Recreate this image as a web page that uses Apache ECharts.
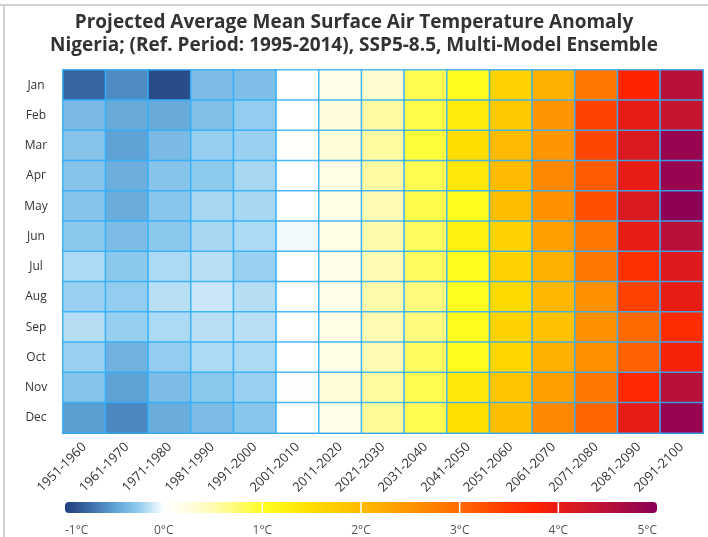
<!DOCTYPE html>
<html>
<head>
<meta charset="utf-8">
<script src="https://cdn.jsdelivr.net/npm/echarts@6/dist/echarts.min.js"></script>
<style>
html,body{margin:0;padding:0;background:#fff;}
#chart{width:708px;height:537px;}
</style>
</head>
<body>
<div id="chart"></div>
<script>
// ---- data ----
const months = ['Jan','Feb','Mar','Apr','May','Jun','Jul','Aug','Sep','Oct','Nov','Dec'];
const decades = ['1951-1960','1961-1970','1971-1980','1981-1990','1991-2000','2001-2010','2011-2020','2021-2030','2031-2040','2041-2050','2051-2060','2061-2070','2071-2080','2081-2090','2091-2100'];

// anomaly (°C) per decade, Jan..Dec
const d1951 = [-0.78,-0.36,-0.30,-0.30,-0.30,-0.28,-0.19,-0.23,-0.17,-0.23,-0.30,-0.52];
const d1961 = [-0.60,-0.45,-0.50,-0.43,-0.44,-0.35,-0.28,-0.25,-0.24,-0.41,-0.50,-0.62];
const d1971 = [-0.92,-0.45,-0.36,-0.30,-0.29,-0.28,-0.19,-0.16,-0.19,-0.25,-0.35,-0.44];
const d1981 = [-0.35,-0.33,-0.24,-0.27,-0.20,-0.20,-0.16,-0.12,-0.16,-0.19,-0.28,-0.35];
const d1991 = [-0.34,-0.25,-0.23,-0.20,-0.20,-0.19,-0.23,-0.17,-0.16,-0.19,-0.23,-0.29];
const d2001 = [0.02,0.00,0.03,0.00,0.02,-0.03,0.02,0.02,0.00,0.00,-0.01,0.00];
const d2011 = [0.18,0.28,0.30,0.22,0.22,0.22,0.18,0.18,0.22,0.20,0.30,0.18];
const d2021 = [0.35,0.55,0.57,0.55,0.50,0.52,0.50,0.52,0.50,0.50,0.57,0.60];
const d2031 = [0.85,0.88,0.92,0.85,0.87,0.80,0.80,0.70,0.70,0.80,0.85,0.85];
const d2041 = [1.05,1.30,1.50,1.35,1.05,1.25,1.05,1.00,1.05,1.05,1.35,1.45];
const d2051 = [1.65,1.80,2.00,2.00,1.95,1.65,1.65,1.55,1.65,1.60,1.85,1.95];
const d2061 = [2.15,2.50,2.50,2.65,2.55,2.35,2.15,2.05,1.90,2.15,2.35,2.65];
const d2071 = [2.85,3.40,3.35,3.15,3.25,2.85,2.85,2.55,2.55,2.55,2.85,3.05];
const d2081 = [3.75,4.00,4.15,4.00,4.15,4.00,3.60,3.40,3.00,3.10,3.70,4.00];
const d2091 = [4.50,4.35,4.85,4.85,4.95,4.50,4.10,4.00,3.65,3.85,4.50,4.85];
const decadeValues = [d1951,d1961,d1971,d1981,d1991,d2001,d2011,d2021,d2031,d2041,d2051,d2061,d2071,d2081,d2091];

// colour scale (-1 .. 5 °C, evenly spaced stops)
const scaleMin = -1, scaleMax = 5;
const scaleColors = ['#213f7c','#3a6aa8','#5ea2d6','#92cdef','#ffffff','#fffde0','#fffbb2','#fffb70','#ffff20',
  '#fff010','#ffdc00','#ffcc00','#ffbb00','#ffa800','#ff9500','#ff8000','#ff6a00','#ff5000','#ff3800','#ff2400',
  '#e81c14','#d01828','#b81038','#a00848','#880058'];
const colorbarTicks = [1,2,3,4];

// ---- build ----
const heatData = [];
decadeValues.forEach((col, xi) => col.forEach((v, yi) => heatData.push([xi, yi, v])));
const stops = scaleColors.map((c, i) => ({offset: i/(scaleColors.length-1), color: c}));

const chart = echarts.init(document.getElementById('chart'), null, {renderer:'canvas'});
const font = '"Open Sans", "Noto Sans", sans-serif';
chart.setOption({
  animation: false,
  title: {
    text: 'Projected Average Mean Surface Air Temperature Anomaly\nNigeria; (Ref. Period: 1995-2014), SSP5-8.5, Multi-Model Ensemble',
    left: 'center', top: 11, padding: [0,0,0,22],
    textStyle: {fontFamily: font, fontSize: 19, fontWeight: 'bold', color: '#333', lineHeight: 23}
  },
  graphic: [
    {type:'line', shape:{x1:0,y1:5,x2:708,y2:5}, style:{stroke:'#d2d2d2', lineWidth:2}, silent:true},
    {type:'line', shape:{x1:4,y1:5,x2:4,y2:537}, style:{stroke:'#c4c4c4', lineWidth:1.5}, silent:true}
  ],
  grid: [
    {left:63, right:5, top:70, bottom:104, show:true, borderColor:'#dcdcdc', borderWidth:1},
    {left:65, right:51, top:502, height:12}
  ],
  xAxis: [
    {type:'category', data: decades, gridIndex:0,
     axisLabel:{rotate:45, interval:0, fontFamily:font, fontSize:13, color:'#333', margin:12},
     axisTick:{show:false}, axisLine:{show:true, lineStyle:{color:'#2a3340', width:2}}, splitLine:{show:false}},
    {type:'value', gridIndex:1, min:scaleMin, max:scaleMax, interval:1,
     axisLabel:{formatter:'{value}°C', fontFamily:font, fontSize:12, color:'#555', margin:12,
                alignMinLabel:'left', alignMaxLabel:'right'},
     axisTick:{show:false}, axisLine:{show:false}, splitLine:{show:false}}
  ],
  yAxis: [
    {type:'category', data: months, inverse:true, gridIndex:0,
     axisLabel:{fontFamily:font, fontSize:12, color:'#333', align:'center', margin:27},
     axisTick:{show:false}, axisLine:{show:true, lineStyle:{color:'#bbbbbb'}}, splitLine:{show:false}},
    {type:'value', gridIndex:1, min:0, max:1, show:false}
  ],
  visualMap: {
    type:'continuous', min:scaleMin, max:scaleMax, show:false, seriesIndex:0,
    inRange:{color: scaleColors}
  },
  series: [
    {type:'heatmap', data: heatData, xAxisIndex:0, yAxisIndex:0,
     itemStyle:{borderColor:'rgba(50,175,250,0.85)', borderWidth:1.6},
     emphasis:{disabled:true}, label:{show:false}},
    {type:'custom', xAxisIndex:1, yAxisIndex:1, silent:true,
     data:[[scaleMin, 0]],
     renderItem: function(params, api){
       const p0 = api.coord([scaleMin, 1]);
       const p1 = api.coord([scaleMax, 0]);
       return {type:'rect', shape:{x:p0[0], y:p0[1], width:p1[0]-p0[0], height:p1[1]-p0[1], r:4},
               style:{fill: new echarts.graphic.LinearGradient(0,0,1,0, stops)}};
     }},
    {type:'custom', xAxisIndex:1, yAxisIndex:1, silent:true,
     data: colorbarTicks.map(v => [v, 0]),
     renderItem: function(params, api){
       const a = api.coord([api.value(0), 0]);
       const b = api.coord([api.value(0), 1]);
       return {type:'line', shape:{x1:a[0], y1:a[1], x2:b[0], y2:b[1]}, style:{stroke:'#ffffff', lineWidth:1.5}};
     }}
  ]
});
</script>
</body>
</html>
